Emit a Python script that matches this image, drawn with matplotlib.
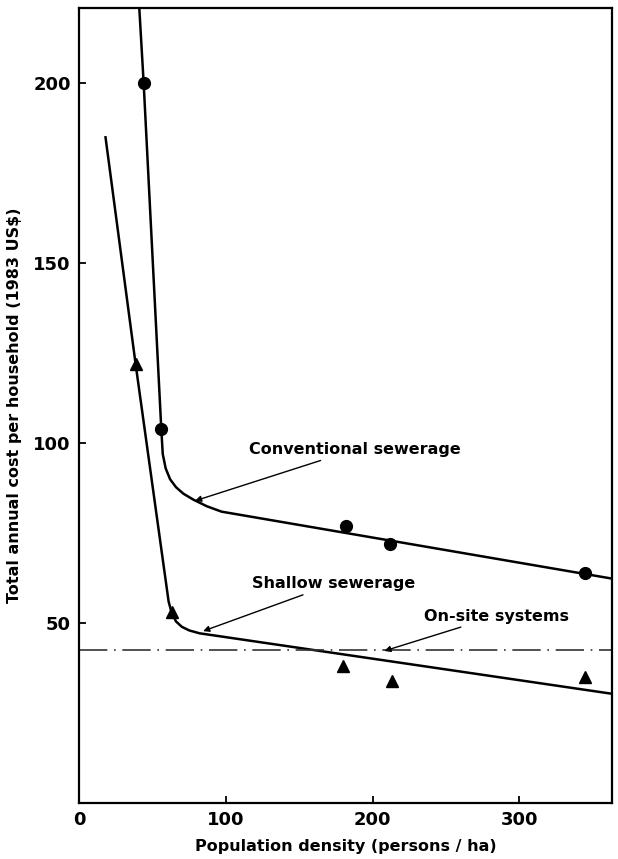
import numpy as np
import matplotlib.pyplot as plt

# measured costs (1983 US$ per household per year)
conv_pts_x = [44, 56, 182, 212, 345]
conv_pts_y = [200, 104, 77, 72, 64]
shal_pts_x = [38.5, 63, 180, 213, 345]
shal_pts_y = [122, 53, 38, 34, 35]

# fitted curves
conv_x = [41, 44, 56, 57, 59, 62, 66, 71, 78, 87, 97, 363]
conv_y = [221, 200, 104, 97, 93, 90, 87.8, 86, 84.3, 82.5, 81, 62.4]
shal_x = [18, 38.5, 61, 63, 66, 70, 75, 82, 363]
shal_y = [185, 122, 56, 53, 50.5, 49, 48, 47.2, 30.4]

onsite_cost = 42.5

plt.rcParams['font.family'] = 'DejaVu Sans'
plt.rcParams['font.weight'] = 'bold'
plt.rcParams['axes.labelweight'] = 'bold'

fig = plt.figure(figsize=(6.18, 8.59), dpi=100)
ax = fig.add_axes([0.128, 0.065, 0.862, 0.926])

ax.plot(conv_x, conv_y, color='black', lw=1.8)
ax.plot(shal_x, shal_y, color='black', lw=1.8)
ax.axhline(onsite_cost, color='#333333', lw=1.2, linestyle=(0, (17, 4, 1, 4)))

ax.plot(conv_pts_x, conv_pts_y, 'o', color='black', ms=8.5)
ax.plot(shal_pts_x, shal_pts_y, '^', color='black', ms=9)

arrow = dict(arrowstyle='-|>', color='black', lw=1, mutation_scale=9,
             shrinkA=2, shrinkB=0)
ax.annotate('Conventional sewerage', xy=(79, 84), xytext=(116, 98.3),
            fontsize=11.5, va='center', arrowprops=arrow)
ax.annotate('Shallow sewerage', xy=(84.5, 47.8), xytext=(118, 61),
            fontsize=11.5, va='center', arrowprops=arrow)
ax.annotate('On-site systems', xy=(208, 42.3), xytext=(235, 52),
            fontsize=11.5, va='center', arrowprops=arrow)

ax.set_xlim(0, 363)
ax.set_ylim(0, 221)
ax.set_xticks([0, 100, 200, 300])
ax.set_yticks([50, 100, 150, 200])
ax.tick_params(direction='in', length=5, width=1.3, labelsize=13, pad=6)

for s in ax.spines.values():
    s.set_linewidth(1.6)

ax.set_xlabel('Population density (persons / ha)', fontsize=11.5, labelpad=7)
ax.set_ylabel('Total annual cost per household (1983 US$)', fontsize=11.5, labelpad=8)

fig.savefig('out.png', dpi=100)
